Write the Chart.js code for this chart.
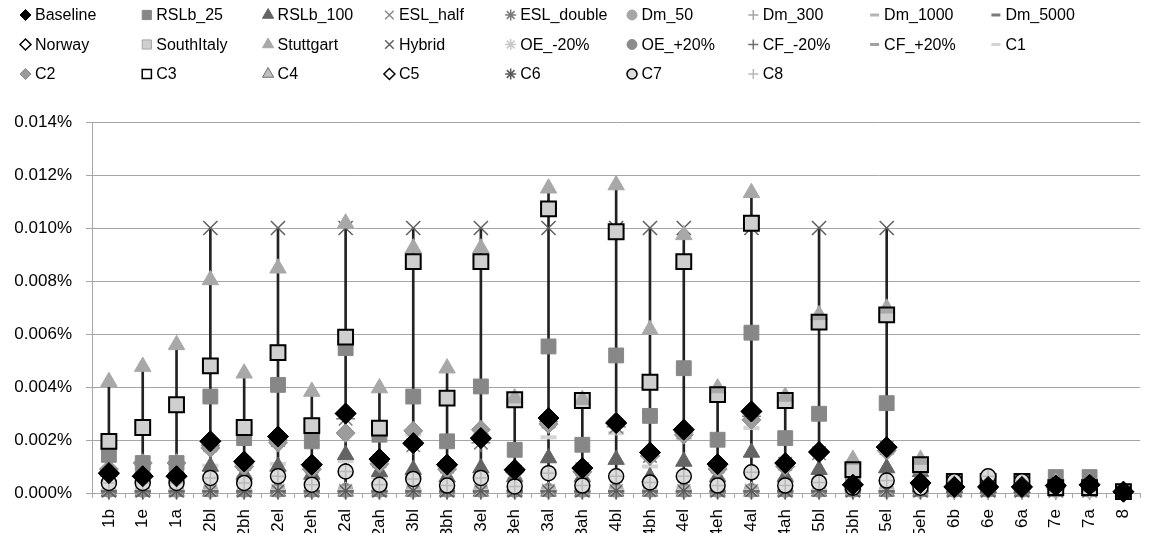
<!DOCTYPE html>
<html>
<head>
<meta charset="utf-8">
<script src="https://cdn.jsdelivr.net/npm/chart.js@4.4.1/dist/chart.umd.min.js"></script>
<style>
  html, body { margin: 0; padding: 0; background: #fff; overflow: hidden; }
  #wrap { width: 1155px; height: 533px; position: relative; overflow: hidden; }
</style>
</head>
<body>
<div id="wrap"><canvas id="chart" width="1155" height="533"></canvas></div>
<script>
// Categories (cases) along the x axis
const categories = ['1b','1e','1a','2bl','2bh','2el','2eh','2al','2ah','3bl','3bh','3el','3eh','3al','3ah',
  '4bl','4bh','4el','4eh','4al','4ah','5bl','5bh','5el','5eh','6b','6e','6a','7e','7a','8'];

// Y axis ticks (percent)
const yTicks = [0, 0.002, 0.004, 0.006, 0.008, 0.010, 0.012, 0.014];

// Series values, in percent
const baseline   = [0.00075,0.00063,0.00063,0.00195,0.00119,0.00213,0.00107,0.00300,0.00128, 0.00188,0.00107,0.00207,0.00088,0.00283,0.00094, 0.00264,0.00153,0.00239,0.00109,0.00308,0.00113, 0.00155,0.00031,0.00173,0.00038, 0.00023,0.00023,0.00023,0.00028,0.00031,0.00005];
const rslb25     = [0.00144,0.00113,0.00113,0.00364,0.00207,0.00408,0.00195,0.00547,0.00220, 0.00364,0.00195,0.00402,0.00163,0.00553,0.00182, 0.00519,0.00291,0.00471,0.00201,0.00605,0.00207, 0.00299,0.00070,0.00339,0.00100, 0.00040,0.00040,0.00040,0.00060,0.00060,0.00005];
const rslb100    = [0.00080,0.00090,0.00090,0.00100,0.00070,0.00100,0.00070,0.00144,0.00080, 0.00088,0.00060,0.00094,0.00060,0.00132,0.00060, 0.00126,0.00060,0.00119,0.00060,0.00153,0.00060, 0.00088,0.00030,0.00094,0.00080, 0.00020,0.00020,0.00020,0.00030,0.00030,0.00003];
const eslHalf    = [0.00010,0.00010,0.00010,0.00010,0.00010,0.00010,0.00010,0.00010,0.00010, 0.00010,0.00010,0.00010,0.00010,0.00010,0.00010, 0.00010,0.00010,0.00010,0.00010,0.00010,0.00010, 0.00010,0.00010,0.00010,0.00010, 0.00010,0.00010,0.00010,0.00010,0.00010,0.00005];
const eslDouble  = [0.00070,0.00060,0.00060,0.00180,0.00110,0.00200,0.00100,0.00280,0.00120, 0.00180,0.00100,0.00190,0.00080,0.00270,0.00090, 0.00250,0.00140,0.00230,0.00100,0.00290,0.00110, 0.00150,0.00030,0.00170,0.00040, 0.00020,0.00020,0.00020,0.00030,0.00030,0.00005];
const dm50       = [0.00038,0.00038,0.00038,0.00057,0.00038,0.00063,0.00031,0.00081,0.00031, 0.00053,0.00028,0.00057,0.00025,0.00075,0.00028, 0.00063,0.00040,0.00063,0.00028,0.00078,0.00028, 0.00040,0.00020,0.00047,0.00020, 0.00044,0.00063,0.00044,0.00030,0.00030,0.00003];
const dm300      = [0.00008,0.00008,0.00008,0.00008,0.00008,0.00008,0.00008,0.00008,0.00008, 0.00008,0.00008,0.00008,0.00008,0.00008,0.00008, 0.00008,0.00008,0.00008,0.00008,0.00008,0.00008, 0.00008,0.00008,0.00008,0.00008, 0.00008,0.00008,0.00008,0.00008,0.00008,0.00004];
const dm1000     = [0.00020,0.00020,0.00020,0.00020,0.00020,0.00020,0.00020,0.00020,0.00020, 0.00020,0.00020,0.00020,0.00020,0.00020,0.00020, 0.00020,0.00020,0.00020,0.00020,0.00020,0.00020, 0.00020,0.00015,0.00020,0.00015, 0.00010,0.00010,0.00010,0.00010,0.00010,0.00003];
const dm5000     = [0.00005,0.00005,0.00005,0.00005,0.00005,0.00005,0.00005,0.00005,0.00005, 0.00005,0.00005,0.00005,0.00005,0.00005,0.00005, 0.00005,0.00005,0.00005,0.00005,0.00005,0.00005, 0.00005,0.00005,0.00005,0.00005, 0.00005,0.00005,0.00005,0.00005,0.00005,0.00003];
const norway     = [0.00075,0.00063,0.00063,0.00195,0.00119,0.00213,0.00107,0.00300,0.00128, 0.00188,0.00107,0.00207,0.00088,0.00283,0.00094, 0.00264,0.00153,0.00239,0.00109,0.00308,0.00113, 0.00155,0.00031,0.00173,0.00038, 0.00023,0.00023,0.00023,0.00028,0.00031,0.00005];
const southItaly = [0.00195,0.00247,0.00333,0.00480,0.00247,0.00530,0.00254,0.00588,0.00245, 0.00873,0.00358,0.00873,0.00352,0.01072,0.00349, 0.00986,0.00418,0.00873,0.00371,0.01018,0.00349, 0.00645,0.00088,0.00672,0.00107, 0.00044,0.00044,0.00044,0.00020,0.00020,0.00005];
const stuttgart  = [0.00420,0.00477,0.00559,0.00804,0.00452,0.00848,0.00383,0.01018,0.00396, 0.00924,0.00471,0.00924,0.00358,0.01150,0.00352, 0.01162,0.00616,0.00974,0.00396,0.01133,0.00364, 0.00672,0.00126,0.00697,0.00126, 0.00030,0.00030,0.00030,0.00040,0.00040,0.00005];
const hybrid     = [0.00010,0.00010,0.00010,0.01000,0.00010,0.01000,0.00010,0.01000,0.00010, 0.01000,0.00010,0.01000,0.00010,0.01000,0.00010, 0.01000,0.01000,0.01000,0.00010,0.01000,0.00010, 0.01000,0.00010,0.01000,0.00010, 0.00010,0.00010,0.00010,0.00010,0.00010,0.00005];
const oeMinus20  = [0.00012,0.00012,0.00012,0.00012,0.00012,0.00012,0.00012,0.00012,0.00012, 0.00012,0.00012,0.00012,0.00012,0.00012,0.00012, 0.00012,0.00012,0.00012,0.00012,0.00012,0.00012, 0.00012,0.00012,0.00012,0.00012, 0.00012,0.00012,0.00012,0.00012,0.00012,0.00004];
const oePlus20   = [0.00010,0.00010,0.00010,0.00010,0.00010,0.00010,0.00010,0.00010,0.00010, 0.00010,0.00010,0.00010,0.00010,0.00010,0.00010, 0.00010,0.00010,0.00010,0.00010,0.00010,0.00010, 0.00010,0.00010,0.00010,0.00010, 0.00010,0.00010,0.00010,0.00010,0.00010,0.00004];
const cfMinus20  = [0.00005,0.00005,0.00005,0.00005,0.00005,0.00005,0.00005,0.00005,0.00005, 0.00005,0.00005,0.00005,0.00005,0.00005,0.00005, 0.00005,0.00005,0.00005,0.00005,0.00005,0.00005, 0.00005,0.00005,0.00005,0.00005, 0.00005,0.00005,0.00005,0.00005,0.00005,0.00003];
const cfPlus20   = [0.00015,0.00015,0.00015,0.00015,0.00015,0.00015,0.00015,0.00015,0.00015, 0.00015,0.00015,0.00015,0.00015,0.00015,0.00015, 0.00015,0.00015,0.00015,0.00015,0.00015,0.00015, 0.00015,0.00015,0.00015,0.00015, 0.00010,0.00010,0.00010,0.00010,0.00010,0.00003];
const c1         = [0.00090,0.00050,0.00050,0.00103,0.00060,0.00110,0.00050,0.00120,0.00060, 0.00220,0.00090,0.00220,0.00050,0.00210,0.00050, 0.00226,0.00100,0.00208,0.00050,0.00245,0.00050, 0.00150,0.00020,0.00160,0.00030, 0.00020,0.00020,0.00020,0.00020,0.00020,0.00003];
const c2         = [0.00090,0.00113,0.00113,0.00170,0.00100,0.00190,0.00090,0.00226,0.00110, 0.00235,0.00090,0.00239,0.00080,0.00260,0.00080, 0.00270,0.00140,0.00220,0.00090,0.00276,0.00100, 0.00150,0.00030,0.00160,0.00030, 0.00020,0.00020,0.00020,0.00020,0.00030,0.00005];
const c3         = [0.00195,0.00247,0.00333,0.00480,0.00247,0.00530,0.00254,0.00588,0.00245, 0.00873,0.00358,0.00873,0.00352,0.01072,0.00349, 0.00986,0.00418,0.00873,0.00371,0.01018,0.00349, 0.00645,0.00088,0.00672,0.00107, 0.00044,0.00044,0.00044,0.00020,0.00020,0.00005];
const c4         = [0.00005,0.00005,0.00005,0.00005,0.00005,0.00005,0.00005,0.00005,0.00005, 0.00005,0.00005,0.00005,0.00005,0.00005,0.00005, 0.00005,0.00005,0.00005,0.00005,0.00005,0.00005, 0.00005,0.00005,0.00005,0.00005, 0.00005,0.00005,0.00005,0.00005,0.00005,0.00003];
const c5         = [0.00075,0.00063,0.00063,0.00195,0.00119,0.00213,0.00107,0.00300,0.00128, 0.00188,0.00107,0.00207,0.00088,0.00283,0.00094, 0.00264,0.00153,0.00239,0.00109,0.00308,0.00113, 0.00155,0.00031,0.00173,0.00038, 0.00023,0.00023,0.00023,0.00028,0.00031,0.00005];
const c6         = [0.00008,0.00008,0.00008,0.00008,0.00008,0.00008,0.00008,0.00008,0.00008, 0.00008,0.00008,0.00008,0.00008,0.00008,0.00008, 0.00008,0.00008,0.00008,0.00008,0.00008,0.00008, 0.00008,0.00008,0.00008,0.00008, 0.00030,0.00030,0.00030,0.00040,0.00040,0.00004];
const c7         = [0.00038,0.00038,0.00038,0.00057,0.00038,0.00063,0.00031,0.00081,0.00031, 0.00053,0.00028,0.00057,0.00025,0.00075,0.00028, 0.00063,0.00040,0.00063,0.00028,0.00078,0.00028, 0.00040,0.00020,0.00047,0.00020, 0.00044,0.00063,0.00044,0.00030,0.00030,0.00003];
const c8         = [0.00038,0.00038,0.00038,0.00057,0.00038,0.00063,0.00031,0.00081,0.00031, 0.00053,0.00028,0.00057,0.00025,0.00075,0.00028, 0.00063,0.00040,0.00063,0.00028,0.00078,0.00028, 0.00040,0.00020,0.00047,0.00020, 0.00044,0.00063,0.00044,0.00030,0.00030,0.00003];

// Marker styles per series, in legend order (9 columns per row).
// order: lower numbers are drawn on top.
const series = [
  { label: 'Baseline',   data: baseline,   style: 'rectRot',  r: 10.5, fill: '#000000', stroke: '#000000', bw: 1,   order: 1 },
  { label: 'RSLb_25',    data: rslb25,     style: 'rect',     r: 10.5, fill: '#878787', stroke: '#878787', bw: 1,   order: 9 },
  { label: 'RSLb_100',   data: rslb100,    style: 'triangle', r: 9.5,  fill: '#646464', stroke: '#646464', bw: 1,   order: 12 },
  { label: 'ESL_half',   data: eslHalf,    style: 'crossRot', r: 9,    fill: '#8a8a8a', stroke: '#8a8a8a', bw: 1.5, order: 16 },
  { label: 'ESL_double', data: eslDouble,  style: 'star',     r: 9.5,  fill: '#7a7a7a', stroke: '#7a7a7a', bw: 1.5, order: 11 },
  { label: 'Dm_50',      data: dm50,       style: 'circle',   r: 7,    fill: '#a6a6a6', stroke: '#a6a6a6', bw: 1,   order: 4 },
  { label: 'Dm_300',     data: dm300,      style: 'cross',    r: 8,    fill: '#a6a6a6', stroke: '#a6a6a6', bw: 1.5, order: 17 },
  { label: 'Dm_1000',    data: dm1000,     style: 'line',     r: 7,    fill: '#b4b4b4', stroke: '#b4b4b4', bw: 4,   order: 18 },
  { label: 'Dm_5000',    data: dm5000,     style: 'line',     r: 8,    fill: '#7a7a7a', stroke: '#7a7a7a', bw: 4,   order: 19 },
  { label: 'Norway',     data: norway,     style: 'rectRot',  r: 9.5,  fill: '#ffffff', stroke: '#000000', bw: 1.5, order: 4 },
  { label: 'SouthItaly', data: southItaly, style: 'rect',     r: 10.5, fill: '#cfcfcf', stroke: '#a6a6a6', bw: 1,   order: 8 },
  { label: 'Stuttgart',  data: stuttgart,  style: 'triangle', r: 9.5,  fill: '#a8a8a8', stroke: '#a8a8a8', bw: 1,   order: 6 },
  { label: 'Hybrid',     data: hybrid,     style: 'crossRot', r: 10,   fill: '#5e5e5e', stroke: '#5e5e5e', bw: 1.5, order: 8.5 },
  { label: 'OE_-20%',    data: oeMinus20,  style: 'star',     r: 8,    fill: '#c8c8c8', stroke: '#c8c8c8', bw: 1.5, order: 15 },
  { label: 'OE_+20%',    data: oePlus20,   style: 'circle',   r: 7,    fill: '#8a8a8a', stroke: '#8a8a8a', bw: 1,   order: 20 },
  { label: 'CF_-20%',    data: cfMinus20,  style: 'cross',    r: 8,    fill: '#6e6e6e', stroke: '#6e6e6e', bw: 1.5, order: 21 },
  { label: 'CF_+20%',    data: cfPlus20,   style: 'line',     r: 7,    fill: '#a0a0a0', stroke: '#a0a0a0', bw: 4,   order: 22 },
  { label: 'C1',         data: c1,         style: 'line',     r: 8,    fill: '#d4d4d4', stroke: '#d4d4d4', bw: 4,   order: 13 },
  { label: 'C2',         data: c2,         style: 'rectRot',  r: 9.5,  fill: '#9c9c9c', stroke: '#8c8c8c', bw: 1,   order: 10 },
  { label: 'C3',         data: c3,         style: 'rect',     r: 10.5, fill: 'rgba(255,255,255,0)', stroke: '#000000', bw: 2, order: 5 },
  { label: 'C4',         data: c4,         style: 'triangle', r: 9,    fill: '#c0c0c0', stroke: '#6e6e6e', bw: 1,   order: 23 },
  { label: 'C5',         data: c5,         style: 'rectRot',  r: 9.5,  fill: '#ffffff', stroke: '#000000', bw: 1.5, order: 4 },
  { label: 'C6',         data: c6,         style: 'star',     r: 8,    fill: '#5a5a5a', stroke: '#5a5a5a', bw: 1.5, order: 14 },
  { label: 'C7',         data: c7,         style: 'circle',   r: 7.5,  fill: '#dcdcdc', stroke: '#000000', bw: 1.5, order: 3 },
  { label: 'C8',         data: c8,         style: 'cross',    r: 6.5,  fill: '#b8b8b8', stroke: '#b8b8b8', bw: 1.5, order: 2 }
];

// Legend marker sizes by shape
const legendRadius = { rectRot: 5.5, rect: 6.5, triangle: 6.5, crossRot: 6, star: 5.5, circle: 5, cross: 5, line: 4.5 };

// High-low lines: span from the lowest to the highest series value in each category
const highLow = categories.map((_, i) => {
  const vals = series.map(s => s.data[i]);
  return [Math.min(...vals), Math.max(...vals)];
});

const FONT = '"Liberation Sans", Arial, sans-serif';
Chart.defaults.font.family = FONT;
Chart.defaults.color = '#000';

const datasets = series.map(s => ({
  type: 'line',
  label: s.label,
  data: s.data,
  showLine: false,
  pointStyle: s.style,
  pointRadius: s.r,
  pointHoverRadius: s.r,
  pointBackgroundColor: s.fill,
  pointBorderColor: s.stroke,
  pointBorderWidth: s.bw,
  order: s.order,
  clip: false
}));

datasets.push({
  type: 'bar',
  label: 'high-low',
  data: highLow,
  backgroundColor: '#222222',
  borderWidth: 0,
  barThickness: 2,
  grouped: false,
  order: 100
});

// Legend drawn as a fixed grid: 9 columns, 3 rows
const legendGrid = {
  id: 'legendGrid',
  afterDraw(chart) {
    const ctx = chart.ctx;
    const x0 = 25.5, colW = 121.3, rows = [15, 44.5, 74];
    ctx.save();
    series.forEach((s, i) => {
      const col = i % 9, row = Math.floor(i / 9);
      const x = x0 + col * colW, y = rows[row];
      ctx.save();
      ctx.fillStyle = s.fill;
      ctx.strokeStyle = s.stroke;
      const lw = s.style === 'line' ? 3 : Math.min(s.bw, 1.5);
      ctx.lineWidth = lw;
      Chart.helpers.drawPoint(ctx, { pointStyle: s.style, radius: legendRadius[s.style], borderWidth: lw, rotation: 0 }, x, y);
      ctx.restore();
      ctx.font = '16px ' + FONT;
      ctx.fillStyle = '#000';
      ctx.textAlign = 'left';
      ctx.textBaseline = 'middle';
      ctx.fillText(s.label, x + 9.5, y + 1);
    });
    ctx.restore();
  }
};

new Chart(document.getElementById('chart'), {
  data: { labels: categories, datasets },
  options: {
    responsive: false,
    animation: false,
    events: [],
    layout: { padding: { top: 122, left: 0, right: 2, bottom: 0 } },
    plugins: { legend: { display: false }, tooltip: { enabled: false } },
    scales: {
      x: {
        type: 'category',
        offset: true,
        grid: { display: true, drawOnChartArea: false, drawTicks: true, tickLength: 5, color: '#a6a6a6', offset: true },
        border: { display: true, color: '#a6a6a6', width: 1 },
        ticks: { autoSkip: false, maxRotation: 90, minRotation: 90, padding: 11, color: '#000', font: { size: 17, family: FONT } },
        afterFit(scale) { scale.height = 40; }
      },
      y: {
        min: 0,
        max: 0.014,
        afterBuildTicks(scale) { scale.ticks = yTicks.map(v => ({ value: v })); },
        grid: { color: '#a6a6a6', tickLength: 6, lineWidth: 1 },
        border: { display: true, color: '#a6a6a6', width: 1 },
        ticks: {
          padding: 14,
          color: '#000',
          font: { size: 17, family: FONT },
          callback: v => v.toFixed(3) + '%'
        },
        afterFit(scale) { scale.width = 92; }
      }
    }
  },
  plugins: [legendGrid]
});
</script>
</body>
</html>
